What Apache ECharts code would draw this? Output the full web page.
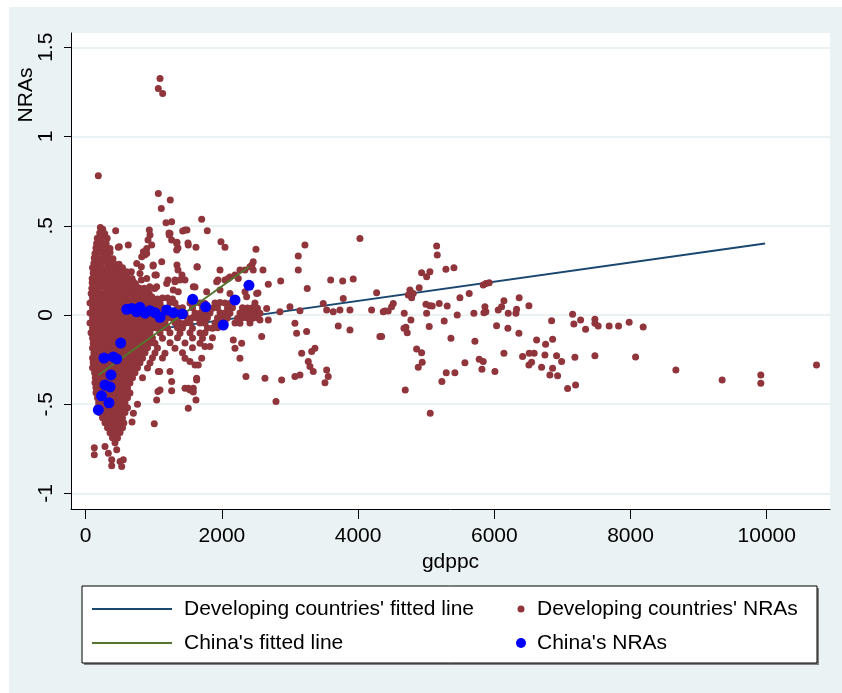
<!DOCTYPE html>
<html><head><meta charset="utf-8">
<script src="https://cdn.jsdelivr.net/npm/echarts@6/dist/echarts.min.js"></script>
<style>html,body{margin:0;padding:0;background:#fff}#c{width:842px;height:693px}</style>
</head><body><div id="c"></div>
<script>
const xTicks=[0,2000,4000,6000,8000,10000];
const yTicks=[-1,-0.5,0,0.5,1,1.5];
const yTickLabels=['-1','-.5','0','.5','1','1.5'];
const legendNames=["Developing countries' fitted line","Developing countries' NRAs","China's fitted line","China's NRAs"];
const devFit=[[100,-0.131],[9975,0.401]];
const chinaFit=[[185,-0.336],[2398,0.270]];
const chinaNRAs=[[185,-0.532],[232,-0.453],[342,-0.492],[283,-0.392],[357,-0.403],[371,-0.336],[269,-0.241],[405,-0.235],[455,-0.246],[514,-0.157],[602,0.032],[675,0.037],[749,0.018],[797,0.043],[871,0.010],[944,0.024],[1017,0.013],[1091,-0.013],[1189,0.028],[1286,0.013],[1418,0.006],[1571,0.088],[1762,0.046],[2020,-0.056],[2192,0.084],[2397,0.166]];
const devNRAs=[
[215,.49],[250,.48],[205,.46],[280,.455],[170,.43],[245,.435],[315,.43],[160,.40],[230,.405],[300,.40],
[150,.375],[225,.37],[295,.375],[350,.37],[136,.345],[210,.35],[283,.345],[357,.35],
[125,.32],[190,.315],[260,.32],[330,.32],[400,.315],[120,.29],[190,.29],[260,.295],[330,.29],[410,.29],[490,.285],
[100,.265],[173,.26],[247,.26],[320,.265],[393,.26],[467,.26],[540,.265],
[110,.235],[180,.235],[250,.23],[320,.235],[390,.235],[460,.24],[530,.235],[600,.23],
[95,.205],[165,.21],[240,.205],[310,.21],[380,.205],[450,.21],[520,.205],[600,.21],[680,.205],
[95,.18],[165,.18],[235,.175],[305,.18],[375,.18],[445,.18],[515,.175],[585,.18],[655,.18],[730,.175],
[90,.15],[160,.15],[230,.155],[300,.15],[370,.15],[440,.15],[510,.155],[580,.15],[650,.15],[720,.155],[790,.15],[860,.15],
[80,.12],[150,.125],[220,.12],[290,.125],[360,.12],[430,.12],[500,.125],[570,.12],[640,.12],[710,.125],[780,.12],[850,.12],[930,.125],
[100,.095],[173,.09],[247,.095],[320,.095],[393,.09],[467,.095],[540,.095],[614,.09],[687,.095],[760,.095],[834,.09],[907,.095],[980,.095],[1054,.09],[1127,.095],[1201,.095],[1274,.09],
[63,.067],[136,.07],[210,.065],[283,.067],[357,.07],[430,.067],[504,.065],[577,.067],[650,.07],[724,.067],[797,.065],[871,.067],[944,.07],[1017,.067],[1091,.065],[1238,.07],[1311,.067],[1531,.067],[1605,.07],[1678,.067],[1751,.065],[1898,.067],[1972,.07],[2045,.067],[2118,.065],
[100,.04],[173,.039],[247,.04],[320,.038],[393,.04],[467,.039],[540,.04],[614,.038],[687,.04],[760,.039],[834,.04],[907,.038],[980,.04],[1054,.039],[1127,.04],[1201,.038],[1348,.039],[1421,.04],[1568,.04],[1715,.039],[1788,.04],[1861,.038],[1935,.04],[2082,.039],[2155,.04],[2302,.04],[2375,.039],[2449,.04],[2522,.038],
[63,.011],[136,.01],[210,.012],[283,.011],[357,.01],[430,.012],[504,.011],[577,.01],[650,.012],[724,.011],[797,.01],[871,.012],[944,.011],[1017,.01],[1091,.012],[1164,.011],[1238,.01],[1384,.011],[1458,.01],[1605,.011],[1678,.01],[1751,.012],[1825,.011],[1972,.012],[2045,.011],[2118,.01],[2265,.011],[2339,.01],[2412,.012],[2485,.011],[2559,.01],
[100,-.017],[173,-.018],[247,-.016],[320,-.017],[393,-.018],[467,-.016],[540,-.017],[614,-.018],[687,-.016],[760,-.017],[834,-.018],[907,-.016],[980,-.017],[1054,-.018],[1127,-.016],[1201,-.017],[1274,-.018],[1348,-.016],[1494,-.018],[1568,-.016],[1641,-.017],[1715,-.018],[1788,-.016],[1935,-.017],[2008,-.018],[2082,-.016],[2229,-.018],[2302,-.016],[2375,-.017],[2449,-.018],[2522,-.016],
[63,-.045],[136,-.046],[210,-.044],[283,-.045],[357,-.046],[430,-.044],[504,-.045],[577,-.046],[650,-.044],[724,-.045],[797,-.046],[871,-.044],[944,-.045],[1017,-.046],[1091,-.044],[1164,-.045],[1311,-.044],[1384,-.045],[1458,-.046],[1531,-.044],[1678,-.045],[1751,-.046],[1898,-.045],[1972,-.046],[2045,-.044],[2192,-.045],[2265,-.046],[2412,-.045],
[100,-.073],[173,-.074],[247,-.072],[320,-.073],[393,-.074],[467,-.072],[540,-.073],[614,-.074],[687,-.072],[760,-.073],[834,-.074],[907,-.072],[980,-.073],[1054,-.074],[1127,-.072],[1201,-.073],[1348,-.072],[1421,-.073],[1568,-.074],[1788,-.073],[1861,-.074],[1935,-.072],
[78,-.10],[136,-.101],[210,-.10],[283,-.102],[357,-.10],[430,-.101],[504,-.10],[577,-.102],[650,-.10],[724,-.101],[797,-.10],[871,-.102],[944,-.10],[1091,-.101],[1238,-.10],[1384,-.102],[1531,-.10],[1678,-.101],[1751,-.10],
[100,-.129],[173,-.13],[247,-.128],[320,-.129],[393,-.13],[467,-.128],[540,-.129],[614,-.13],[687,-.128],[760,-.129],[834,-.13],[907,-.128],[980,-.129],[1127,-.13],[1348,-.128],[1568,-.129],[1715,-.13],[1861,-.128],
[110,-.157],[136,-.158],[210,-.156],[283,-.157],[357,-.158],[430,-.156],[504,-.157],[577,-.158],[650,-.156],[724,-.157],[797,-.158],[871,-.156],[944,-.157],[1017,-.158],[1238,-.156],[1458,-.157],[1678,-.158],
[100,-.185],[173,-.186],[247,-.184],[320,-.185],[393,-.186],[467,-.184],[540,-.185],[614,-.186],[687,-.184],[760,-.185],[834,-.186],[907,-.184],[1054,-.185],[1311,-.186],[1568,-.184],
[120,-.213],[136,-.214],[210,-.212],[283,-.213],[357,-.214],[430,-.212],[504,-.213],[577,-.214],[650,-.212],[724,-.213],[797,-.214],[871,-.212],[1017,-.213],[1164,-.214],[1421,-.212],
[100,-.241],[173,-.242],[247,-.24],[320,-.241],[393,-.242],[467,-.24],[540,-.241],[614,-.242],[687,-.24],[760,-.241],[834,-.242],[980,-.24],[1127,-.241],
[110,-.268],[136,-.268],[210,-.269],[283,-.267],[357,-.268],[430,-.269],[504,-.267],[577,-.268],[650,-.269],[724,-.267],[797,-.268],[944,-.269],
[100,-.296],[173,-.297],[247,-.295],[320,-.296],[393,-.297],[467,-.295],[540,-.296],[614,-.297],[687,-.295],[760,-.296],[907,-.297],
[130,-.324],[210,-.325],[283,-.323],[357,-.324],[430,-.325],[504,-.323],[577,-.324],[650,-.325],[724,-.323],
[140,-.352],[173,-.353],[247,-.351],[320,-.352],[393,-.353],[467,-.351],[540,-.352],[614,-.353],[687,-.351],[834,-.352],
[136,-.38],[210,-.381],[283,-.379],[357,-.38],[430,-.381],[504,-.379],[577,-.38],[650,-.381],
[150,-.408],[173,-.409],[247,-.407],[320,-.408],[393,-.409],[467,-.407],[540,-.408],[614,-.409],
[151,-.436],[210,-.437],[283,-.435],[357,-.436],[430,-.437],[504,-.435],[577,-.436],[650,-.437],
[173,-.464],[247,-.465],[320,-.463],[393,-.464],[467,-.465],[540,-.463],[614,-.464],
[190,-.492],[210,-.493],[283,-.491],[357,-.492],[430,-.493],[504,-.491],[577,-.492],
[173,-.52],[247,-.521],[320,-.519],[393,-.52],[467,-.521],[540,-.519],[614,-.52],
[210,-.548],[283,-.549],[357,-.547],[430,-.548],[504,-.549],[577,-.547],
[247,-.576],[320,-.577],[393,-.575],[467,-.576],[540,-.577],
[283,-.604],[357,-.605],[430,-.603],[504,-.604],[560,-.605],
[320,-.632],[393,-.633],[467,-.631],[540,-.632],
[357,-.66],[430,-.661],[504,-.659],[393,-.688],[467,-.689],
[126,-.744],[126,-.783],[283,-.737],[332,-.774],[382,-.811],[382,-.845],[430,-.716],[455,-.755],[504,-.821],[528,-.849],[552,-.811],
[1091,1.325],[1066,1.269],[1130,1.241],[185,0.78],[1066,0.681],[1242,0.644],[1110,0.597],[1179,0.517],[1262,0.522],[1703,0.536],[1785,0.472],[1458,0.476],[1424,0.47],[440,0.472],[934,0.476],[944,0.448],[969,0.392],[1227,0.448],[1262,0.42],[1336,0.401],[1506,0.392],[1619,0.379],[1986,0.41],[2045,0.379],[2500,0.368],[479,0.379],[357,0.373],[896,0.373],[915,0.42],[866,0.336],[988,0.274],[817,0.27],[670,0.242],[1037,0.224],[694,0.158],[817,0.196],[940,0.158],[1013,0.149],[1487,0.476],[1223,0.459],[1340,0.408],[1355,0.375],[1502,0.403],[1340,0.28],[1355,0.252],[1634,0.269],[1972,0.252],[2441,0.28],[2603,0.252],[1208,0.196],[1311,0.196],[1414,0.224],[1458,0.196],[1605,0.157],[1942,0.196],[2118,0.213],[2192,0.224],[2339,0.252],[2529,0.123],[2485,0.067],[493,0.382],[625,0.392],[846,0.354],[896,0.345],[749,0.289],[822,0.326],[1116,0.298],[992,0.28],[1336,0.364],[602,0.242],[797,0.233],[896,0.205],[1017,0.224],[1042,0.158],[1189,0.177],[1311,0.186],[1384,0.196],[1286,0.14],[1359,0.13],[1580,0.158],[1776,0.13],[1923,0.186],[2045,0.196],[2093,0.205],[2240,0.205],[1972,0.14],[2118,0.121],[2339,0.13],[2265,0.252],[2412,0.27],[2460,0.252],[2363,0.102],[2510,0.121],[699,0.186],[749,0.158],[797,0.13],[896,0.121],[969,0.102],[1238,0.457],
[3219,0.392],[3121,0.33],[3121,0.252],[4027,0.429],[1638,0.27],[2460,0.298],[2863,0.19],[2681,0.172],[3253,0.149],[3597,0.196],[3773,0.19],[3928,0.201],[4272,0.125],[3146,0.024],[2999,0.046],[2852,0.018],[2657,0.037],[3488,0.065],[3782,0.093],[3538,0.028],[3635,0.018],[3733,0.028],[3880,0.028],[4198,0.028],[3072,-0.046],[3244,-0.093],[3097,-0.102],[3708,-0.062],[3880,-0.084],[4320,-0.121],[2584,-0.121],[2559,-0.028],[2681,-0.028],[2290,-0.158],[2167,-0.14],[2192,-0.186],[2265,-0.242],[3171,-0.214],[3318,-0.205],[3366,-0.186],[3268,-0.261],[3293,-0.289],[3341,-0.317],[3538,-0.308],[3561,-0.345],[3513,-0.379],[3072,-0.345],[3146,-0.336],[2877,-0.364],[2632,-0.354],[2353,-0.345],[2794,-0.485],[1506,-0.522],[1007,-0.61],[1619,-0.476],[1580,-0.41],[1506,-0.41],[1629,-0.364],[1238,-0.317],[1262,-0.373],[1091,-0.42],[1042,-0.476],[1066,-0.317],
[1262,-0.425],[1458,-0.41],[1531,-0.42],[1580,-0.432],[1629,-0.355],[1703,-0.242],[1653,-0.28],[1605,-0.28],[1751,-0.177],[1825,-0.177],[1531,-0.261],[1458,-0.242],[1061,-0.429],[1086,-0.317],[700,-0.55],[760,-0.5],[680,-0.6],
[5153,0.386],[5162,0.336],[4932,0.237],[5006,0.214],[5054,0.242],[5289,0.256],[5407,0.265],[4897,0.153],[4761,0.14],[4809,0.121],[4786,0.097],[4736,0.112],[4516,0.065],[4492,0.046],[4394,0.022],[4442,0.022],[5495,0.097],[5631,0.121],[5837,0.168],[5876,0.177],[5925,0.181],[4996,0.06],[5054,0.052],[5088,0.05],[5191,0.065],[5308,0.05],[6141,0.08],[6107,0.046],[6057,0.028],[5862,0.046],[5876,0.018],[5847,0.013],[6365,0.097],[6508,0.052],[6327,0.032],[6317,0.01],[6204,0.01],[5700,0.01],[5455,0],[4677,0.01],[5006,0.01],[4369,0.018],[4775,-0.028],[4702,-0.069],[4721,-0.099],[4673,-0.074],[5044,-0.065],[5264,-0.034],[5363,-0.13],[4345,-0.121],[4859,-0.19],[4932,-0.211],[4941,-0.265],[4883,-0.293],[5715,-0.147],[5778,-0.248],[5837,-0.261],[5818,-0.304],[5568,-0.267],[5294,-0.323],[5421,-0.323],[5230,-0.373],[4692,-0.42],[5059,-0.55],[6009,-0.317],[6033,-0.06],[6199,-0.074],[6361,-0.102],[6141,-0.214],[6415,-0.233],[6512,-0.214],[6585,-0.214],[6621,-0.14],[6753,-0.164],[6508,-0.28],[6547,-0.265],[6694,-0.293],[6743,-0.224],[6856,-0.136],[6841,-0.032],[6856,-0.298],[6816,-0.336],[6914,-0.229],[6988,-0.261],[6929,-0.341],[7076,-0.412],[7193,-0.392],[7149,0.004],[7168,-0.05],[7267,-0.028],[7340,-0.08],[7183,-0.237],[7477,-0.024],[7477,-0.046],[7525,-0.062],[7477,-0.229],[7686,-0.062],[7824,-0.062],[7980,-0.041],[8186,-0.067],[8074,-0.235],[8666,-0.308],[9345,-0.364],[9913,-0.336],[9913,-0.382],[10731,-0.28]
];

const font="'Liberation Sans', Arial, sans-serif";
const chart=echarts.init(document.getElementById('c'),null,{renderer:'canvas'});
const txt={fontSize:21,fontFamily:font,color:'#000'};
function legendItem(name,left,top,icon,w,h,pad){
  return {data:[name],left:left,top:top,orient:'vertical',icon:icon,itemWidth:w,itemHeight:h,padding:0,
    selectedMode:false,textStyle:Object.assign({},txt,{lineHeight:24,padding:[0,0,0,pad]})};
}
chart.setOption({
  animation:false,
  backgroundColor:'#fff',
  graphic:[
    {type:'rect',z:-20,silent:true,shape:{x:9,y:7,width:833,height:686},style:{fill:'#eaf2f3'}},
    {type:'rect',z:-10,silent:true,shape:{x:71,y:33,width:759,height:476},style:{fill:'#fff'}},
    {type:'rect',z:0,silent:true,shape:{x:84,y:588,width:735,height:77},style:{fill:'#808080'}},
    {type:'rect',z:1,silent:true,shape:{x:82,y:586,width:735,height:77},style:{fill:'#fff',stroke:'#000',lineWidth:1}},
    {type:'text',z:5,x:26,y:95,rotation:Math.PI/2,style:{text:'NRAs',font:"21px 'Liberation Sans', Arial, sans-serif",fill:'#000',align:'center',verticalAlign:'middle'}}
  ],
  grid:{left:71,top:33,right:12,bottom:184,show:false},
  legend:[
    legendItem(legendNames[0],92,597,'rect',80,2,7),
    legendItem(legendNames[2],92,631,'rect',80,2,7),
    legendItem(legendNames[1],517.5,597,'circle',7,7,7.5),
    legendItem(legendNames[3],516,631,'circle',10,10,6)
  ],
  xAxis:{type:'value',min:-216,max:10929,
    axisLine:{show:true,onZero:false,lineStyle:{color:'#000',width:1}},
    axisTick:{show:true,length:10,customValues:xTicks,lineStyle:{color:'#000'}},
    axisLabel:Object.assign({customValues:xTicks,margin:17,formatter:function(v){return String(v);}},txt),
    splitLine:{show:false},
    name:'gdppc',nameLocation:'middle',nameGap:39,nameTextStyle:txt},
  yAxis:{type:'value',min:-1.087,max:1.58,
    axisLine:{show:true,onZero:false,lineStyle:{color:'#000',width:1}},
    axisTick:{show:true,length:7,customValues:yTicks,lineStyle:{color:'#000'}},
    axisLabel:Object.assign({customValues:yTicks,margin:14,rotate:90,
      formatter:function(v){const i=yTicks.indexOf(v);return i>=0?yTickLabels[i]:'';}},txt),
    splitLine:{show:true,lineStyle:{color:'#eaf2f3',width:2}}},
  series:[
    {name:legendNames[0],type:'line',data:devFit,symbol:'none',z:2,color:'#1a476f',
      lineStyle:{color:'#1a476f',width:2},itemStyle:{color:'#1a476f'}},
    {name:legendNames[1],type:'scatter',data:devNRAs,symbolSize:7,z:3,
      itemStyle:{color:'#90353b',opacity:1}},
    {name:legendNames[2],type:'line',data:chinaFit,symbol:'none',z:4,color:'#55752f',
      lineStyle:{color:'#55752f',width:2},itemStyle:{color:'#55752f'}},
    {name:legendNames[3],type:'scatter',data:chinaNRAs,symbolSize:11,z:5,
      itemStyle:{color:'#0000ff',opacity:1}}
  ]
});
</script></body></html>
